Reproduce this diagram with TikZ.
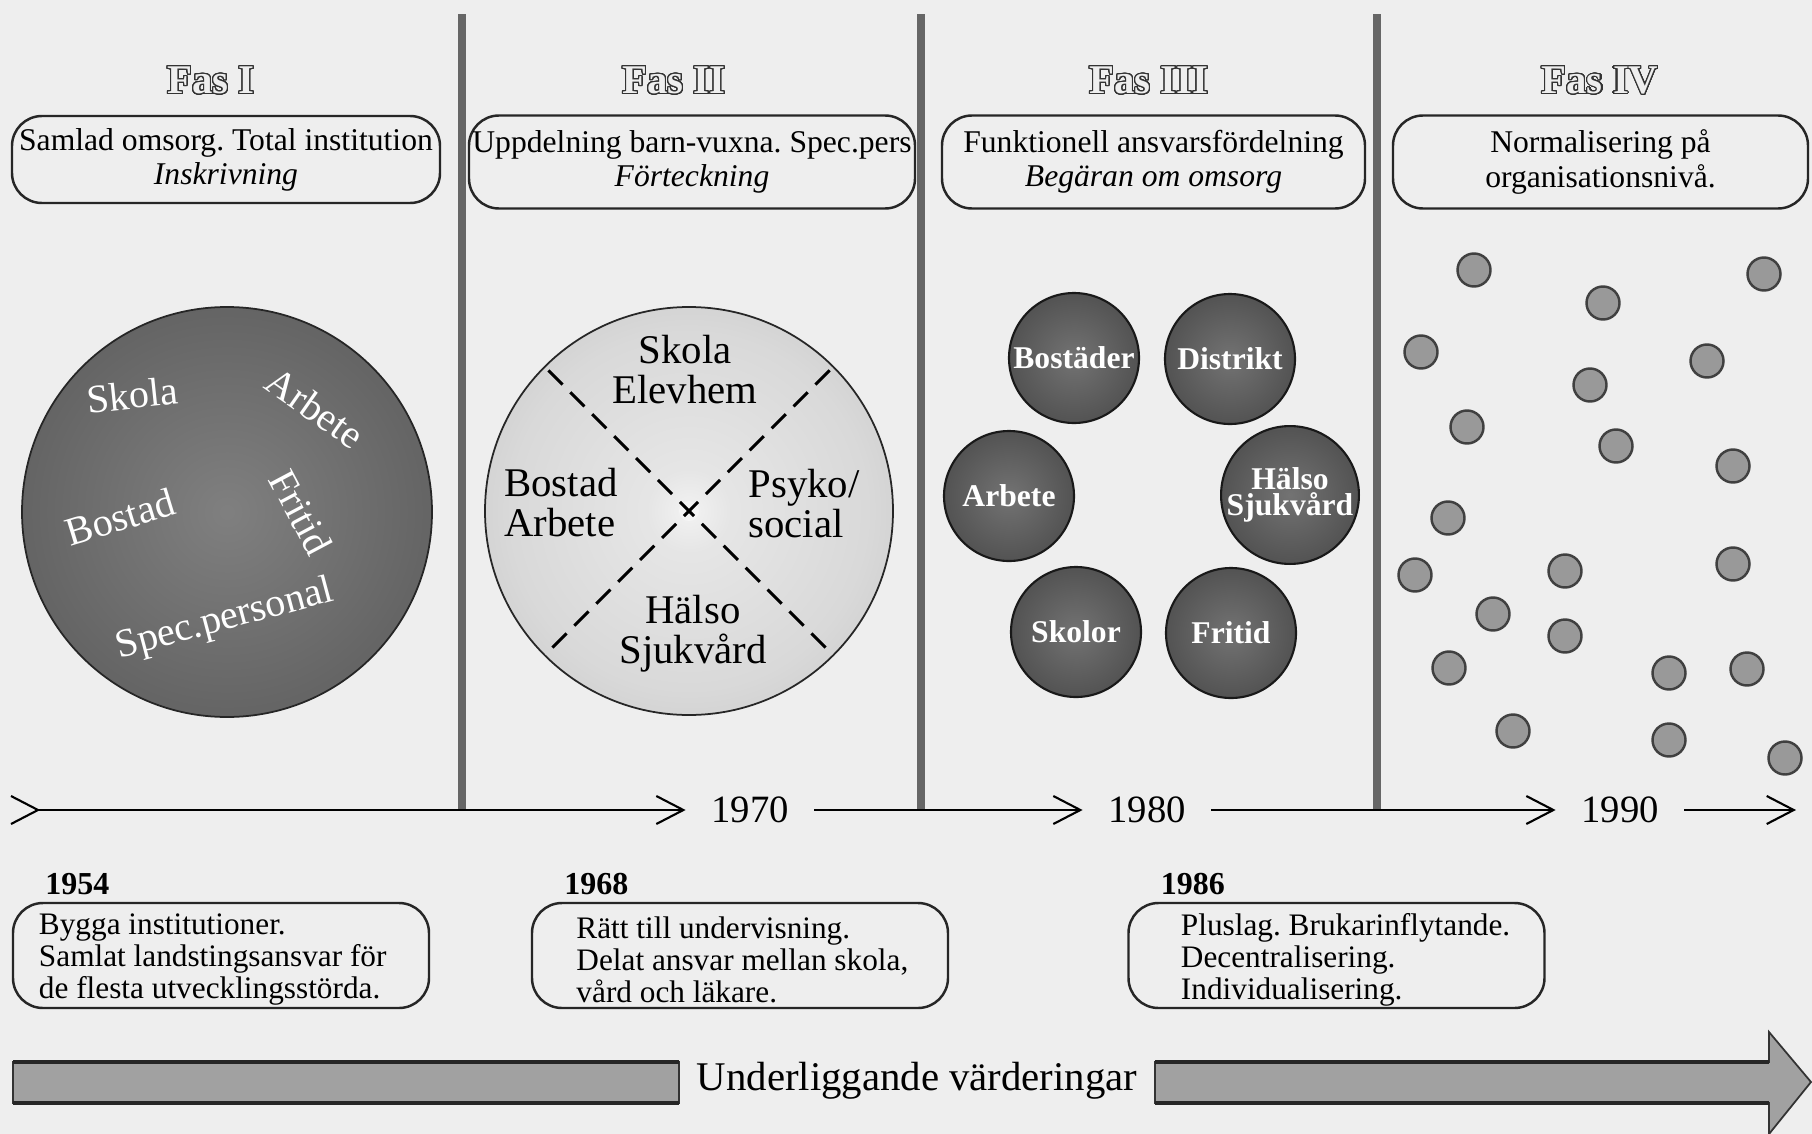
\documentclass[tikz,border=0pt]{standalone}
\usepackage{fontspec}
\setmainfont{Liberation Serif}
\usepackage[copies]{contour}
\usetikzlibrary{arrows.meta,positioning}
\definecolor{paper}{RGB}{238,238,238}
\contourlength{0.32pt}
\contournumber{32}
\frenchspacing
\pgfdeclareradialshading{darkball}{\pgfpoint{0bp}{0bp}}{color(0bp)=(black!50);color(28bp)=(black!62);color(50bp)=(black!80)}
\pgfdeclareradialshading{smallball}{\pgfpoint{0bp}{0bp}}{color(0bp)=(black!55);color(50bp)=(black!80)}
\pgfdeclareradialshading{lightdisc}{\pgfpoint{0bp}{0bp}}{color(0bp)=(black!5);color(5bp)=(black!10);color(22bp)=(black!15);color(32bp)=(black!21);color(50bp)=(black!24)}
\tikzset{
	fas/.style={font=\fontsize{11.6}{12}\selectfont\bfseries},
	phase/.style={draw=black!85,line width=0.7pt,rounded corners=0.3cm,align=center,inner sep=0pt,font=\fontsize{9}{9.7}\selectfont},
	divider/.style={draw=black!60,line width=2.3pt},
	tl/.style={line width=0.6pt},
	tltip/.style={-{Straight Barb[length=2.7mm,width=2.8mm]}},
	yr/.style={inner xsep=0.25cm,inner ysep=0pt,font=\fontsize{11}{12}\selectfont},
	bigball/.style={circle,draw=black!85,line width=0.5pt,inner sep=0pt},
	balltext/.style={inner sep=0pt,text=white,font=\fontsize{11.4}{12}\selectfont},
	sectortext/.style={inner sep=0pt,font=\fontsize{11.6}{11.4}\selectfont},
	crossdash/.style={line width=0.85pt,dash pattern=on 0.2cm off 0.11cm},
	unit/.style={circle,draw=black!90,line width=0.6pt,shading=smallball,minimum size=1.3cm,inner sep=0pt,
		text=white,align=center,font=\fontsize{9}{7.6}\selectfont\bfseries},
	dot/.style={circle,draw=black!75,line width=0.7pt,fill=black!40,minimum size=0.33cm,inner sep=0pt},
	datebox/.style={draw=black!85,line width=0.7pt,rounded corners=0.3cm,minimum width=4.16cm,minimum height=1.05cm},
	datetext/.style={align=left,inner sep=0pt,font=\fontsize{8.9}{9.1}\selectfont},
	yearlbl/.style={inner sep=0pt,font=\fontsize{9.1}{10}\selectfont\bfseries},
	bar/.style={fill=black!37,draw=black!80,line width=0.5pt},
	barrim/.style={draw=black!85,line width=1.2pt}
}
\begin{document}
\begin{tikzpicture}[y=-1cm]
	\useasboundingbox (0,0) rectangle (18.12,11.34);
	\fill[paper] (0,0) rectangle (18.12,11.34);
	% phase dividers
	\foreach \x in {4.62,9.21,13.77}
		\draw[divider] (\x,0.14) -- (\x,8.10);
	% headings
	\node[fas] (fas1) at (2.11,0.81) {\contour{black!80}{\textcolor{paper}{Fas I}}};
	\node[fas] (fas2) at (6.74,0.81) {\contour{black!80}{\textcolor{paper}{Fas II}}};
	\node[fas] (fas3) at (11.49,0.81) {\contour{black!80}{\textcolor{paper}{Fas III}}};
	\node[fas] (fas4) at (16.00,0.81) {\contour{black!80}{\textcolor{paper}{Fas IV}}};
	\node[phase,minimum width=4.28cm,minimum height=0.87cm] (ph1) at (2.26,1.595) {Samlad omsorg. Total institution\\\textit{Inskrivning}};
	\node[phase,minimum width=4.46cm,minimum height=0.93cm] (ph2) at (6.92,1.62) {Uppdelning barn-vuxna. Spec.pers\\\textit{Förteckning}};
	\node[phase,minimum width=4.23cm,minimum height=0.93cm] (ph3) at (11.535,1.62) {Funktionell ansvarsfördelning\\\textit{Begäran om omsorg}};
	\node[phase,minimum width=4.15cm,minimum height=0.93cm] (ph4) at (16.005,1.62) {Normalisering på\\organisationsnivå.};
	% Fas I
	\node[bigball,shading=darkball,minimum size=4.1cm] (ball1) at (2.27,5.12) {};
	\node[balltext,rotate=6] (skola1) at (1.32,3.95) {Skola};
	\node[balltext,rotate=-35] (arbete1) at (3.15,4.08) {Arbete};
	\node[balltext,rotate=17] (bostad1) at (1.20,5.17) {Bostad};
	\node[balltext,rotate=-62] (fritid1) at (3.01,5.12) {Fritid};
	\node[balltext,rotate=15] (spec1) at (2.25,6.20) {Spec.personal};
	% Fas II
	\node[bigball,shading=lightdisc,minimum size=4.08cm] (ball2) at (6.89,5.11) {};
	\fill[black!4] (ball2.center) circle (0.1);
	\draw[crossdash,shorten <=0.06cm,shorten >=0.06cm] (ball2.north west) -- (ball2.south east);
	\draw[crossdash,shorten <=0.06cm,shorten >=0.06cm] (ball2.north east) -- (ball2.south west);
	\node[sectortext,align=center] (skola2) at (6.85,3.70) {Skola\\Elevhem};
	\node[sectortext,align=left] (bostad2) at (5.61,5.03) {Bostad\\Arbete};
	\node[sectortext,align=left] (psyko2) at (8.04,5.04) {Psyko/\\social};
	\node[sectortext,align=center] (halso2) at (6.93,6.34) {Hälso\\Sjukvård};
	% Fas III
	\node[unit] (bostader) at (10.74,3.58) {Bostäder};
	\node[unit] (distrikt) at (12.30,3.59) {Distrikt};
	\node[unit] (arbete3) at (10.09,4.96) {Arbete};
	\node[unit] (halso3) at (12.90,4.95) {Hälso\\Sjukvård};
	\node[unit] (skolor) at (10.76,6.32) {Skolor};
	\node[unit] (fritid3) at (12.31,6.33) {Fritid};
	% Fas IV
	\foreach \x/\y [count=\i] in {14.74/2.70,17.64/2.74,16.03/3.03,14.21/3.52,17.07/3.61,15.90/3.85,14.67/4.27,
		16.16/4.46,17.33/4.66,14.48/5.18,14.15/5.75,15.65/5.71,17.33/5.64,14.93/6.14,15.65/6.36,14.49/6.68,
		16.69/6.73,17.47/6.69,15.13/7.31,16.69/7.40,17.85/7.58}
		\node[dot] (dot\i) at (\x,\y) {};
	% time line
	\coordinate (tl0) at (0.38,8.10);
	\coordinate (tlend) at (17.96,8.10);
	\node[yr] (y1970) at (7.50,8.10) {1970};
	\node[yr] (y1980) at (11.47,8.10) {1980};
	\node[yr] (y1990) at (16.20,8.10) {1990};
	\draw[tl] (0.11,7.96) -- (tl0) -- (0.11,8.24);
	\draw[tl,tltip] (tl0) -- (y1970);
	\draw[tl,tltip] (y1970) -- (y1980);
	\draw[tl,tltip] (y1980) -- (y1990);
	\draw[tl,tltip] (y1990) -- (tlend);
	% events
	\node[datebox] (b1954) at (2.21,9.555) {};
	\node[datebox] (b1968) at (7.40,9.555) {};
	\node[datebox] (b1986) at (13.365,9.555) {};
	\node[datetext,right=0.265cm of b1954.west,yshift=-0.4mm] (t1954) {Bygga institutioner.\\Samlat landstingsansvar för\\de flesta utvecklingsstörda.};
	\node[datetext,right=0.45cm of b1968.west,yshift=-0.4mm] (t1968) {Rätt till undervisning.\\Delat ansvar mellan skola,\\vård och läkare.};
	\node[datetext,right=0.53cm of b1986.west,yshift=-0.4mm] (t1986) {Pluslag. Brukarinflytande.\\Decentralisering.\\Individualisering.};
	\node[yearlbl,above right=0.06cm and 0.33cm of b1954.north west] (l1954) {1954};
	\node[yearlbl,above right=0.06cm and 0.33cm of b1968.north west] (l1968) {1968};
	\node[yearlbl,above right=0.06cm and 0.33cm of b1986.north west] (l1986) {1986};
	% values arrow
	\node[font=\fontsize{11.6}{13}\selectfont] (values) at (9.17,10.81) {Underliggande värderingar};
	\draw[bar] (0.13,10.62) rectangle (6.79,11.03);
	\draw[barrim] (0.13,10.62) -- (6.79,10.62) (0.13,11.03) -- (6.79,11.03);
	\draw[bar] (11.55,10.62) -- (17.69,10.62) -- (17.69,10.32) -- (18.11,10.82) -- (17.69,11.34) -- (17.69,11.03) -- (11.55,11.03) -- cycle;
	\draw[barrim] (11.55,10.62) -- (17.69,10.62) (11.55,11.03) -- (17.69,11.03);
\end{tikzpicture}
\end{document}
